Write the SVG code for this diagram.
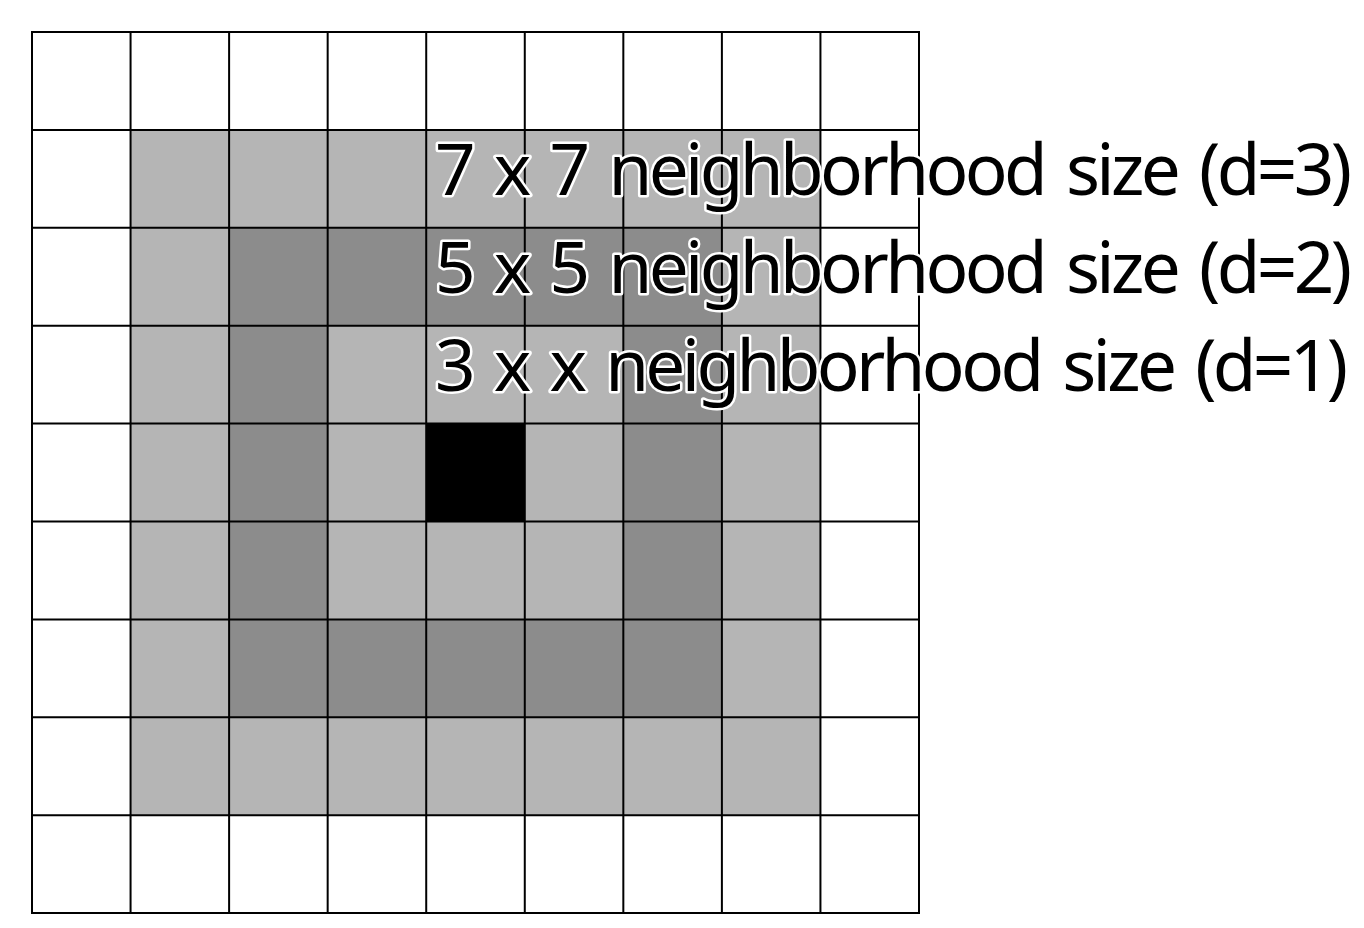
<svg xmlns="http://www.w3.org/2000/svg" width="1364" height="928" viewBox="0 0 1364 928">
<style>
.light{fill:#b5b5b5}
.dark{fill:#8c8c8c}
.grid{stroke:#000;stroke-width:2;fill:none}
.lbl{font-family:"Noto Sans","Open Sans","DejaVu Sans",sans-serif;font-size:71px;word-spacing:7px;fill:#000;stroke:#fff;stroke-width:5;stroke-linejoin:round;paint-order:stroke}
</style>
<rect width="1364" height="928" fill="#fff"/>
<g id="ring-d3"><rect class="light" x="130.56" y="129.9" width="689.88" height="685.3"/></g>
<g id="ring-d2"><rect class="dark" x="229.11" y="227.8" width="492.78" height="489.5"/></g>
<g id="ring-d1"><rect class="light" x="327.67" y="325.7" width="295.66" height="293.7"/></g>
<g id="center"><rect fill="#000" x="426.22" y="423.6" width="98.56" height="97.9"/></g>
<g id="grid" class="grid">
<rect x="32" y="32" width="887" height="881"/>
<path d="M130.56 32V913M229.11 32V913M327.67 32V913M426.22 32V913M524.78 32V913M623.33 32V913M721.89 32V913M820.44 32V913"/>
<path d="M32 129.9H919M32 227.8H919M32 325.7H919M32 423.6H919M32 521.5H919M32 619.4H919M32 717.3H919M32 815.2H919"/>
</g>
<g id="labels">
<text class="lbl" x="435" y="195" textLength="917" lengthAdjust="spacing">7 x 7 neighborhood size (d=3)</text>
<text class="lbl" x="435" y="293" textLength="917" lengthAdjust="spacing">5 x 5 neighborhood size (d=2)</text>
<text class="lbl" x="435" y="391" textLength="913" lengthAdjust="spacing">3 x x neighborhood size (d=1)</text>
</g>
</svg>
